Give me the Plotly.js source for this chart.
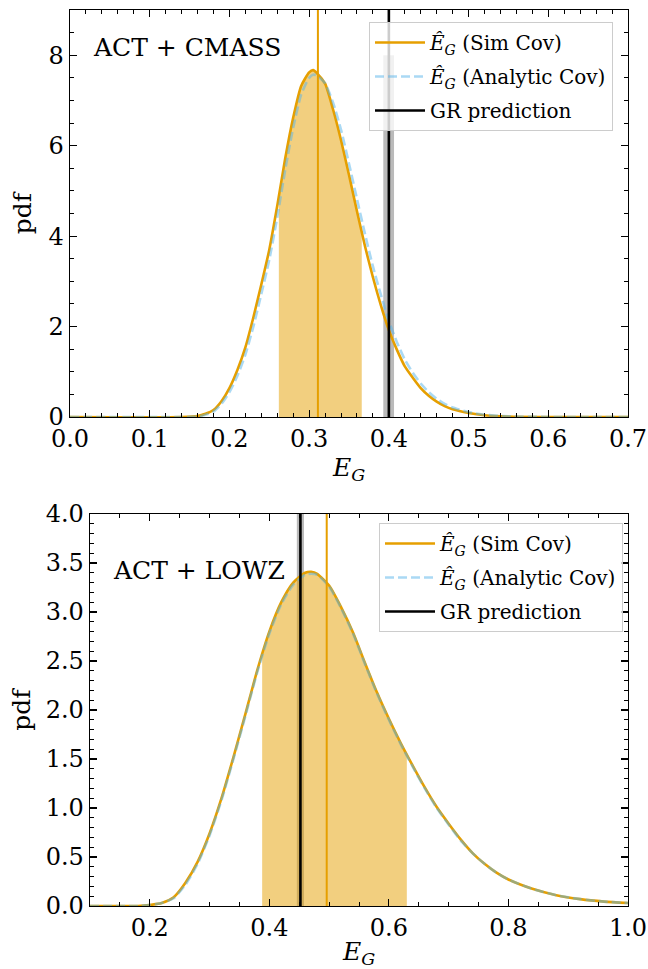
<!DOCTYPE html>
<html>
<head>
<meta charset="utf-8">
<script src="https://cdn.plot.ly/plotly-3.0.1.min.js"></script>
<style>
  html, body { margin: 0; padding: 0; background: #fff; }
  #chart { width: 648px; height: 969px; }
</style>
</head>
<body>
<div id="chart"></div>
<script>
// ---- ACT + CMASS posterior of E_G ----
const xTop = [0.00, 0.14, 0.16, 0.17, 0.18, 0.19, 0.20, 0.21, 0.22, 0.23, 0.24, 0.25, 0.26, 0.27, 0.28,
              0.29, 0.30, 0.305, 0.31, 0.32, 0.33, 0.34, 0.35, 0.36, 0.37, 0.38, 0.39, 0.40, 0.41, 0.42,
              0.43, 0.44, 0.45, 0.46, 0.47, 0.48, 0.50, 0.52, 0.55, 0.60, 0.70];
const simTop = [0, 0, 0.02, 0.07, 0.155, 0.35, 0.64, 1.04, 1.54, 2.20, 2.93, 3.70, 4.67, 5.72, 6.62,
                7.32, 7.62, 7.67, 7.60, 7.37, 6.80, 6.12, 5.35, 4.55, 3.78, 3.09, 2.47, 1.92, 1.49, 1.12,
                0.87, 0.64, 0.47, 0.34, 0.24, 0.17, 0.09, 0.04, 0.01, 0, 0];
const analyticTop = [0, 0, 0.01, 0.05, 0.12, 0.29, 0.55, 0.91, 1.38, 2.00, 2.72, 3.48, 4.42, 5.47, 6.40,
                     7.13, 7.50, 7.57, 7.55, 7.38, 6.95, 6.35, 5.60, 4.82, 4.05, 3.33, 2.70, 2.12, 1.66, 1.27,
                     0.98, 0.74, 0.55, 0.40, 0.29, 0.21, 0.11, 0.05, 0.015, 0, 0];
const intervalTop = [0.262, 0.366];
const bestTop = 0.311;
const grTop = 0.400;
const grBandTop = [0.393, 0.4065];
const grBandTopHeight = 8;
const yRangeTop = [0, 9];
const xRangeTop = [0, 0.7];

// ---- ACT + LOWZ posterior of E_G ----
const xBot = [0.10, 0.18, 0.20, 0.22, 0.24, 0.26, 0.28, 0.30, 0.32, 0.34, 0.36, 0.38, 0.40, 0.42, 0.44,
              0.46, 0.47, 0.48, 0.50, 0.52, 0.54, 0.56, 0.58, 0.60, 0.62, 0.64, 0.66, 0.68, 0.70, 0.72,
              0.74, 0.76, 0.78, 0.80, 0.84, 0.88, 0.92, 0.96, 1.00];
const simBot = [0, 0, 0.01, 0.03, 0.09, 0.24, 0.45, 0.74, 1.10, 1.52, 1.96, 2.41, 2.80, 3.10, 3.30,
                3.40, 3.41, 3.39, 3.27, 3.05, 2.79, 2.48, 2.18, 1.91, 1.66, 1.43, 1.21, 1.01, 0.84, 0.68,
                0.54, 0.43, 0.34, 0.27, 0.175, 0.11, 0.07, 0.045, 0.03];
const analyticBot = [0, 0, 0.01, 0.03, 0.08, 0.22, 0.43, 0.72, 1.08, 1.50, 1.94, 2.39, 2.78, 3.08, 3.28,
                     3.38, 3.39, 3.38, 3.26, 3.04, 2.78, 2.47, 2.17, 1.90, 1.65, 1.42, 1.20, 1.00, 0.83, 0.67,
                     0.54, 0.43, 0.34, 0.27, 0.175, 0.11, 0.07, 0.045, 0.03];
const intervalBot = [0.388, 0.630];
const bestBot = 0.496;
const grBot = 0.452;
const grBandBot = [0.446, 0.458];
const yRangeBot = [0, 4];
const xRangeBot = [0.1, 1.0];

const labels = {
  sim: '<i>Ê</i><sub><i>G</i></sub> (Sim Cov)',
  analytic: '<i>Ê</i><sub><i>G</i></sub> (Analytic Cov)',
  gr: 'GR prediction',
  top: 'ACT + CMASS',
  bot: 'ACT + LOWZ',
  x: '<i>E</i><sub><i>G</i></sub>',
  y: 'pdf'
};

const ORANGE = '#E69F00';
const FILL = 'rgba(230,159,0,0.5)';
const BLUE = 'rgba(86,180,233,0.5)';
const BAND = 'rgba(0,0,0,0.27)';
const SERIF = 'DejaVu Serif, Liberation Serif, serif';

function interp(xs, ys, x) {
  for (let i = 0; i < xs.length - 1; i++) {
    if (x >= xs[i] && x <= xs[i + 1]) {
      const t = (x - xs[i]) / (xs[i + 1] - xs[i]);
      return ys[i] + t * (ys[i + 1] - ys[i]);
    }
  }
  return 0;
}

// curve restricted to [lo, hi], filled down to zero
function shaded(xs, ys, lo, hi) {
  const sx = [lo], sy = [interp(xs, ys, lo)];
  xs.forEach((x, i) => { if (x > lo && x < hi) { sx.push(x); sy.push(ys[i]); } });
  sx.push(hi); sy.push(interp(xs, ys, hi));
  return { x: sx, y: sy };
}

function panelTraces(xa, ya, leg, xs, sim, ana, interval, best, gr, band, bandH, yRange) {
  const sh = shaded(xs, sim, interval[0], interval[1]);
  return [
    { x: [band[0], band[1], band[1], band[0]], y: [0, 0, bandH, bandH], xaxis: xa, yaxis: ya,
      type: 'scatter', mode: 'lines', fill: 'toself', fillcolor: BAND, line: { width: 0 },
      showlegend: false, hoverinfo: 'skip' },
    { x: sh.x, y: sh.y, xaxis: xa, yaxis: ya, type: 'scatter', mode: 'lines', fill: 'tozeroy',
      fillcolor: FILL, line: { width: 0, shape: 'spline', smoothing: 0.6 }, showlegend: false, hoverinfo: 'skip' },
    { x: xs, y: sim, xaxis: xa, yaxis: ya, type: 'scatter', mode: 'lines', name: labels.sim,
      legendgroup: leg + 'a', line: { color: ORANGE, width: 2.6, shape: 'spline', smoothing: 0.6 }, legend: leg },
    { x: xs, y: ana, xaxis: xa, yaxis: ya, type: 'scatter', mode: 'lines', name: labels.analytic,
      legendgroup: leg + 'b', line: { color: BLUE, width: 2.6, dash: '9px,4px', shape: 'spline', smoothing: 0.6 },
      legend: leg },
    { x: [best, best], y: yRange, xaxis: xa, yaxis: ya, type: 'scatter', mode: 'lines',
      line: { color: ORANGE, width: 2 }, showlegend: false, hoverinfo: 'skip' },
    { x: [gr, gr], y: yRange, xaxis: xa, yaxis: ya, type: 'scatter', mode: 'lines', name: labels.gr,
      legendgroup: leg + 'c', line: { color: '#000', width: 2.6 }, legend: leg }
  ];
}

const data = [
  ...panelTraces('x', 'y', 'legend', xTop, simTop, analyticTop, intervalTop, bestTop, grTop,
                 grBandTop, grBandTopHeight, yRangeTop),
  ...panelTraces('x2', 'y2', 'legend2', xBot, simBot, analyticBot, intervalBot, bestBot, grBot,
                 grBandBot, yRangeBot[1], yRangeBot)
];

function axis(extra) {
  return Object.assign({
    showline: true, linecolor: '#000', linewidth: 1.3, mirror: 'allticks',
    ticks: 'inside', ticklen: 7, tickwidth: 1.2, tickcolor: '#000',
    showgrid: false, zeroline: false, automargin: false,
    tickfont: { family: SERIF, size: 24, color: '#000' }
  }, extra);
}

function minor(dtick) {
  return { dtick: dtick, ticks: 'inside', ticklen: 4, tickwidth: 1, tickcolor: '#000', showgrid: false };
}

const titleFont = { family: SERIF, size: 25, color: '#000' };
const W = 648, H = 969;
const legendStyle = {
  bgcolor: 'rgba(255,255,255,0.8)', bordercolor: '#cccccc', borderwidth: 1,
  font: { family: SERIF, size: 20, color: '#000' }, xanchor: 'left', yanchor: 'top',
  traceorder: 'grouped', tracegroupgap: 5, itemwidth: 50
};

const layout = {
  width: W, height: H,
  margin: { l: 0, r: 0, t: 0, b: 0 },
  paper_bgcolor: '#fff', plot_bgcolor: '#fff',
  showlegend: true,
  xaxis: axis({ domain: [70 / W, 628 / W], anchor: 'y', range: xRangeTop, dtick: 0.1, tick0: 0,
    tickformat: '.1f', minor: minor(0.02), title: { text: labels.x, font: titleFont, standoff: 6 } }),
  yaxis: axis({ domain: [1 - 417 / H, 1 - 10 / H], anchor: 'x', range: yRangeTop, dtick: 2, tick0: 0,
    minor: minor(0.5), title: { text: labels.y, font: titleFont, standoff: 10 } }),
  xaxis2: axis({ domain: [90 / W, 628 / W], anchor: 'y2', range: xRangeBot, dtick: 0.2, tick0: 0,
    tickformat: '.1f', minor: minor(0.05), title: { text: labels.x, font: titleFont, standoff: 6 } }),
  yaxis2: axis({ domain: [1 - 906 / H, 1 - 514 / H], anchor: 'x2', range: yRangeBot, dtick: 0.5, tick0: 0,
    tickformat: '.1f', minor: minor(0.1), title: { text: labels.y, font: titleFont, standoff: 8 } }),
  legend: Object.assign({}, legendStyle, { x: 369 / W, y: 1 - 22 / H }),
  legend2: Object.assign({}, legendStyle, { x: 379 / W, y: 1 - 523 / H }),
  annotations: [
    { text: labels.top, xref: 'x domain', yref: 'y domain', x: 0.037, y: 0.907, xanchor: 'left',
      yanchor: 'middle', showarrow: false, font: { family: SERIF, size: 25, color: '#000' } },
    { text: labels.bot, xref: 'x2 domain', yref: 'y2 domain', x: 0.039, y: 0.857, xanchor: 'left',
      yanchor: 'middle', showarrow: false, font: { family: SERIF, size: 25, color: '#000' } }
  ]
};

Plotly.newPlot('chart', data, layout, { displayModeBar: false, staticPlot: true });
</script>
</body>
</html>
